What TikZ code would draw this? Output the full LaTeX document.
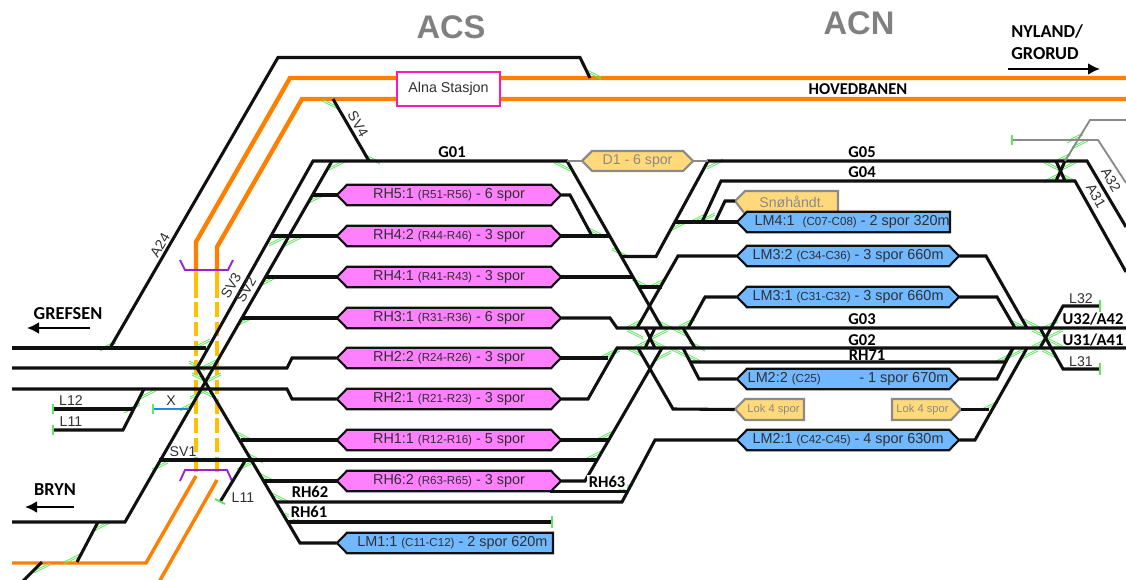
\documentclass[tikz,border=0pt]{standalone}
\usepackage{fontspec}
\setmainfont{Liberation Sans}
\newfontfamily\calib{Carlito}
\definecolor{trk}{HTML}{101010}
\definecolor{orng}{HTML}{FF8000}
\definecolor{yell}{HTML}{FFC000}
\definecolor{pinkbox}{HTML}{FF80FF}
\definecolor{bluebox}{HTML}{70B8FF}
\definecolor{yelbox}{HTML}{FFD97A}
\definecolor{greybd}{HTML}{8A8A8A}
\definecolor{swg}{HTML}{60E860}
\definecolor{txt}{HTML}{303030}
\definecolor{purp}{HTML}{9B1FD8}
\definecolor{magen}{HTML}{FF1AAE}
\definecolor{bluex}{HTML}{1E88E5}
\tikzset{
  track/.style={draw=trk,line width=2.3pt,line join=miter},
  thin track/.style={draw=greybd,line width=1.4pt},
  orange track/.style={draw=orng,line width=3.3pt},
  orange low/.style={draw=orng,line width=2.6pt},
  yellow solid/.style={draw=yell,line width=3pt},
  yellow dash/.style={draw=yell,line width=3pt,dash pattern=on 11pt off 3.5pt},
  bracket/.style={draw=purp,line width=1.4pt},
  stopper/.style={draw=swg,line width=1.5pt},
  swmark/.style={draw=swg,line width=0.55pt},
  boxlabel/.style={inner sep=0pt,minimum height=15pt,text=txt,font=\fontsize{10.8pt}{12pt}\selectfont},
  boldlabel/.style={inner sep=0pt,text=black,font=\calib\bfseries\fontsize{12.4pt}{13pt}\selectfont},
  biglabel/.style={inner sep=0pt,text=black,font=\calib\bfseries\fontsize{13.7pt}{15pt}\selectfont},
  greylabel/.style={inner sep=0pt,text=txt,font=\fontsize{10.6pt}{12pt}\selectfont},
  title/.style={inner sep=0pt,text=gray,font=\bfseries\fontsize{24.5pt}{27pt}\selectfont},
  harrow/.style={draw=black,line width=2.2pt,-{Latex[length=9pt,width=9pt]}},
  hexframe/.style={draw=trk,line width=1.6pt,line join=miter},
  greyframe/.style={draw=greybd,line width=1.6pt,line join=miter,fill=yelbox},
}
\usetikzlibrary{arrows.meta,calc}
% two-sided box: name, left x, right x, centre y, colour, text
\newcommand{\hexb}[6]{%
  \path[hexframe,fill=#5] (#2,#4) -- ++(10,-10.3) -- (#3-10,#4-10.3) -- (#3,#4) -- (#3-10,#4+10.3) -- (#2+10,#4+10.3) -- cycle;
  \node[boxlabel,minimum width={(#3-#2)*0.75pt}] (#1) at ({(#2+#3)/2},#4) {#6};}
% box with a flat right end
\newcommand{\penb}[6]{%
  \path[hexframe,fill=#5] (#2,#4) -- ++(10,-10.3) -- (#3,#4-10.3) -- (#3,#4+10.3) -- (#2+10,#4+10.3) -- cycle;
  \node[boxlabel,minimum width={(#3-#2)*0.75pt}] (#1) at ({(#2+#3)/2},#4) {#6};}
\newcommand{\sm}[1]{{\fontsize{8.7pt}{10pt}\selectfont #1}}
% switch marks: rising and falling
\newcommand{\swA}[2]{\path[swmark] (#1-8,#2+4) -- (#1+8,#2-4) (#1-8,#2+6) -- (#1+8,#2-2);}
\newcommand{\swB}[2]{\path[swmark] (#1-8,#2-4) -- (#1+8,#2+4) (#1-8,#2-2) -- (#1+8,#2+6);}
\begin{document}
\begin{tikzpicture}[x=0.75pt,y=-0.75pt]
\useasboundingbox (0,0) rectangle (1126,580);
% ---------- coordinates
\coordinate (lw1) at (12,348); \coordinate (lw2) at (12,368); \coordinate (lw3) at (12,389);
\coordinate (lw4) at (12,522); \coordinate (lw5) at (12,563);
\coordinate (e1) at (1126,78); \coordinate (e2) at (1126,99);
\coordinate (e3) at (1126,328); \coordinate (e4) at (1126,348);
\coordinate (e5) at (1126,120); \coordinate (e6) at (1126,183);
\coordinate (e7) at (1126,227); \coordinate (e8) at (1126,272);
\coordinate (bot) at (159,582);
\coordinate (a24a) at (110,348); \coordinate (a24b) at (590,78);
\coordinate (sv4a) at (333,99); \coordinate (sv4b) at (369,161);
\coordinate (g01l) at (313,161); \coordinate (g01m) at (567,161);
\coordinate (sv2t) at (332,161); \coordinate (sv3m) at (197,368);
\coordinate (j1) at (206,348); \coordinate (j2) at (144,389); \coordinate (j3) at (133,409);
\coordinate (j4) at (159,460); \coordinate (j5) at (245,461);
\coordinate (j6) at (98,522); \coordinate (j7) at (77,562); \coordinate (j8) at (42,562);
\coordinate (j9) at (22,582); \coordinate (bluej) at (189,409);
\coordinate (l12) at (53,409); \coordinate (l11) at (53,430); \coordinate (xend) at (153,409);
\coordinate (l11b) at (220,502);
\coordinate (d1r) at (708,161); \coordinate (g05e) at (1065,161);
% ---------- orange lines
\draw[orange low] (lw5) -- (146,563) -- (196,476);
\draw[orange low] (bot) -- (217,480);
\draw[orange track] (196,276) -- (196,242) -- (290,78) -- (e1);
\draw[orange track] (217,276) -- (217,247) -- (302,99) -- (e2);
\draw[yellow solid] (196,270) -- (196,283);
\draw[yellow solid] (217,270) -- (217,283);
\draw[yellow dash] (196,283) -- (196,476);
\draw[yellow dash] (217,283) -- (217,476);
\draw[bracket] (180,260) -- (185,270) -- (228,270) -- (233,260);
\draw[bracket] (180,481) -- (185,470) -- (227,470) -- (232,481);
% ---------- switch marks
\foreach \x/\y in {108/345,202/343,210/363,213/377,198/393,148/393,132/407,188/405,160/465,245/320,245/465,
  102/525,72/558,42/567,337/164,315/198,277/240,293/240,268/280,
  658/282,635/323,687/322,660/333,642/343,612/353,663/355,
  715/163,697/218,678/225,707/217,1075/137,1080/143,1063/157,1052/177,1068/165,1050/324,1055/333,1040/342,
  1030/353,1017/352,1004/357,990/405,608/353,605/435,593/455,625/487}{\swA{\x}{\y}}
\foreach \x/\y in {197/365,200/377,208/393,243/435,255/457,267/477,280/497,293/517,
  593/73,330/103,372/158,562/165,597/232,620/252,640/282,663/323,678/330,635/333,658/343,697/345,
  635/351,678/351,693/357,1052/165,1068/177,1017/323,1032/323,1040/333,1055/342,1050/353}{\swB{\x}{\y}}
% ---------- boxes
\hexb{rh51}{337}{561}{195}{pinkbox}{RH5:1 \sm{(R51-R56)} - 6 spor}
\hexb{rh42}{337}{561}{236}{pinkbox}{RH4:2 \sm{(R44-R46)} - 3 spor}
\hexb{rh41}{337}{561}{277}{pinkbox}{RH4:1 \sm{(R41-R43)} - 3 spor}
\hexb{rh31}{337}{561}{318}{pinkbox}{RH3:1 \sm{(R31-R36)} - 6 spor}
\hexb{rh22}{337}{561}{358}{pinkbox}{RH2:2 \sm{(R24-R26)} - 3 spor}
\hexb{rh21}{337}{561}{399}{pinkbox}{RH2:1 \sm{(R21-R23)} - 3 spor}
\hexb{rh11}{337}{561}{440}{pinkbox}{RH1:1 \sm{(R12-R16)} - 5 spor}
\hexb{rh62}{337}{561}{481}{pinkbox}{RH6:2 \sm{(R63-R65)} - 3 spor}
\penb{lm11}{337}{553}{543}{bluebox}{\hspace{11pt}LM1:1 \sm{(C11-C12)} - 2 spor 620m}
% Snow box sits behind LM4:1
\path[greyframe] (735,201) -- (745,191) -- (838,191) -- (838,214) -- (745,214) -- cycle;
\node[inner sep=0pt,text=greybd,font=\fontsize{10.6pt}{12pt}\selectfont] (snow) at (792,202) {Snøhåndt.};
\coordinate (snowtip) at (735,201);
\penb{lm41}{737}{950}{222}{bluebox}{\hspace{13pt}LM4:1 \ \sm{(C07-C08)} - 2 spor 320m}
\hexb{lm32}{737}{959}{256}{bluebox}{LM3:2 \sm{(C34-C36)} - 3 spor 660m}
\hexb{lm31}{737}{959}{297}{bluebox}{LM3:1 \sm{(C31-C32)} - 3 spor 660m}
\hexb{lm22}{737}{959}{379}{bluebox}{LM2:2 \sm{(C25)} \hspace{23pt} - 1 spor 670m}
\hexb{lm21}{737}{959}{440}{bluebox}{LM2:1 \sm{(C42-C45)} - 4 spor 630m}
% D1
\path[greyframe] (582,161) -- (592,151) -- (683,151) -- (693,161) -- (683,171) -- (592,171) -- cycle;
\node[inner sep=0pt,minimum width=83.25pt,minimum height=15pt,text=greybd,font=\fontsize{10.6pt}{12pt}\selectfont] (d1) at (637.5,161) {D1 - 6 spor};
% Lok
\path[greyframe] (735,409) -- (745,399) -- (804,399) -- (804,420) -- (745,420) -- cycle;
\node[inner sep=0pt,minimum width=51.75pt,minimum height=15pt,text=greybd,font=\fontsize{8.4pt}{10pt}\selectfont] (lok1) at (769.5,409.5) {\hspace{6pt}Lok 4 spor};
\path[greyframe] (892,399) -- (951,399) -- (961,409.5) -- (951,420) -- (892,420) -- cycle;
\node[inner sep=0pt,minimum width=51.75pt,minimum height=15pt,text=greybd,font=\fontsize{8.4pt}{10pt}\selectfont] (lok2) at (926.5,409.5) {\hspace{-6pt}Lok 4 spor};
% ---------- black tracks
\draw[track] (lw1) -- (j1);
\draw[track] (lw2) -- (287,368) -- (292,358) -- (rh22.west);
\draw[track] (lw3) -- (287,389) -- (292,399) -- (rh21.west);
\draw[track] (a24a) -- (278,57.5) -- (580,57.5) -- (a24b);
\draw[track] (sv4a) -- (sv4b);
\draw[track] (sv3m) -- (g01l) -- (g01m) -- (662,328);
\draw[track] (sv2t) -- (125,522) -- (lw4);
\draw[track] (sv3m) -- (300,543) -- (lm11.west);
\draw[track] (312,195) -- (rh51.west);
\draw[track] (271,236) -- (rh42.west);
\draw[track] (265,277) -- (rh41.west);
\draw[track] (242,318) -- (rh31.west);
\draw[track] (241,440) -- (rh11.west);
\draw[track] (263,481) -- (rh62.west);
\draw[track] (j4) -- (597,460);
\draw[track] (275,502) -- (622,502) -- (655,440) -- (lm21.west);
\draw[track] (287,522) -- (552,522);
\draw[track] (j2) -- (123,430) -- (l11);
\draw[track] (l12) -- (j3);
\draw[track] (j5) -- (l11b);
\draw[track] (j6) -- (j7);
\draw[track] (j8) -- (j9);
% right end of pink boxes
\draw[track] (rh51.east) -- (570,195) -- (592,236);
\draw[track] (rh42.east) -- (609,236);
\draw[track] (rh41.east) -- (633,277);
\draw[track] (rh31.east) -- (610,318) -- (617,328) -- (e3);
\draw[track] (rh22.east) -- (608,358);
\draw[track] (rh21.east) -- (588,399) -- (617,348) -- (e4);
\draw[track] (rh11.east) -- (608,440);
\draw[track] (rh62.east) -- (585,481) -- (662,348);
\draw[track] (550,491.5) -- (628,491.5);
% central area
\draw[track] (622,256.5) -- (656,256.5) -- (d1r) -- (g05e) -- (1087,161) -- (e7);
\draw[track] (675,222) -- (lm41.west);
\draw[track] (702,222) -- (721,181) -- (1075,181) -- (e8);
\draw[track] (715,222) -- (725,201) -- (snowtip);
\draw[track] (lm32.west) -- (678,256) -- (637,328);
\draw[track] (638,287) -- (662,287);
\draw[track] (645,328) -- (655,348);
\draw[track] (655,328) -- (645,348);
\draw[track] (638,348) -- (673,409) -- (lok1.west);
\draw[track] (lm31.west) -- (705,297) -- (688,328);
\draw[track] (683,328) -- (695,348);
\draw[track] (683,348) -- (699,379) -- (lm22.west);
\draw[track] (690,362) -- (1005,362) -- (1013,348);
% right junction
\draw[track] (lm32.east) -- (986,256) -- (1027,328);
\draw[track] (lm31.east) -- (997,297) -- (1015,328);
\draw[track] (lm22.east) -- (997,379) -- (1013,348);
\draw[track] (lm21.east) -- (975,440) -- (1027,348);
\draw[track] (lok2.east) -- (989,409.5);
\draw[track] (1100,306) -- (1063,306) -- (1040,348);
\draw[track] (1100,369) -- (1063,369) -- (1040,328);
\draw[track] (1056,161) -- (1065,181);
\draw[track] (1065,161) -- (1056,181);
% grey
\draw[thin track] (g01m) -- (d1.west);
\draw[thin track] (d1.east) -- (d1r);
\draw[thin track] (1065,161) -- (1090,120) -- (e5);
\draw[thin track] (1012,140) -- (1098,140) -- (e6);
\draw[draw=bluex,line width=1.4pt] (xend) -- (bluej);
% stoppers
\foreach \x/\y in {53/409,53/430,153/409,1012/140}{\draw[stopper] (\x,\y-5) -- (\x,\y+5);}
\foreach \x/\y in {552/522,1100/306,1100/369}{\draw[stopper] (\x,\y-6) -- (\x,\y+6);}
\draw[stopper] (215,499) -- (225,504);
% Alna
\node[draw=magen,line width=1.6pt,fill=white,minimum width=77pt,minimum height=25.5pt,inner sep=0pt,text=txt,font=\fontsize{10.7pt}{12pt}\selectfont] (alna) at (448.5,89) {Alna Stasjon};
% ---------- labels
\node[title] (acs) at (451,27) {ACS};
\node[title] (acn) at (859,23) {ACN};
\node[biglabel,align=left,anchor=west] (nyl) at (1011,42) {NYLAND/\\[2pt]GRORUD};
\coordinate (arr1a) at (1008,69); \coordinate (arr1b) at (1100,69);
\draw[harrow] (arr1a) -- (arr1b);
\node[biglabel] (gref) at (68,314) {GREFSEN};
\coordinate (arr2a) at (90,328); \coordinate (arr2b) at (27,328);
\draw[harrow] (arr2a) -- (arr2b);
\node[biglabel] (bryn) at (55,490) {BRYN};
\coordinate (arr3a) at (74,507); \coordinate (arr3b) at (25,507);
\draw[harrow] (arr3a) -- (arr3b);
\node[boldlabel] (hov) at (858,89) {HOVEDBANEN};
\node[boldlabel] (g01) at (452,152) {G01};
\node[boldlabel] (g05) at (862,152) {G05};
\node[boldlabel] (g04) at (862,172) {G04};
\node[boldlabel] (g03) at (862,319) {G03};
\node[boldlabel] (g02) at (862,340) {G02};
\node[boldlabel] (rh71) at (867,355) {RH71};
\node[boldlabel] (u32) at (1093,319) {U32/A42};
\node[boldlabel] (u31) at (1093,340) {U31/A41};
\node[boldlabel,fill=white,inner sep=1pt] (rh63) at (607,482) {RH63};
\node[boldlabel,fill=white,inner sep=1pt] (lrh62) at (310,492) {RH62};
\node[boldlabel,fill=white,inner sep=1pt] (lrh61) at (309,512) {RH61};
\node[greylabel] (l32) at (1081,299) {L32};
\node[greylabel] (l31) at (1081,362) {L31};
\node[greylabel] (tl12) at (71,401) {L12};
\node[greylabel] (tl11) at (71,422) {L11};
\node[greylabel] (tx) at (171,401) {X};
\node[greylabel] (tsv1) at (183,452) {SV1};
\node[greylabel] (tl11b) at (243,498) {L11};
\node[greylabel,rotate=60] (ta24) at (160,245) {A24};
\node[greylabel,rotate=-60] (tsv4) at (358,124) {SV4};
\node[greylabel,rotate=60] (tsv3) at (231,286) {SV3};
\node[greylabel,rotate=60] (tsv2) at (246,290) {SV2};
\node[greylabel,rotate=-60] (ta32) at (1111,180) {A32};
\node[greylabel,rotate=-60] (ta31) at (1096,196) {A31};
\end{tikzpicture}
\end{document}
